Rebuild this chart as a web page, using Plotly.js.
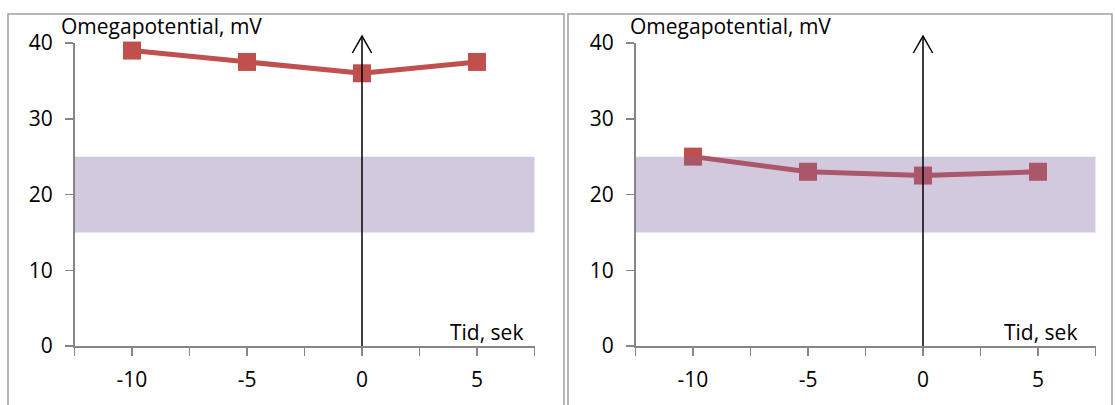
<!DOCTYPE html>
<html>
<head>
<meta charset="utf-8">
<script src="https://cdn.plot.ly/plotly-3.0.1.min.js"></script>
<style>html,body{margin:0;padding:0;background:#fff;}#chart{width:1115px;height:405px;}</style>
</head>
<body>
<div id="chart"></div>
<script>
// ---- data ----
const timeSec = [-10, -5, 0, 5];
const omegaLeft = [39, 37.5, 36, 37.5];
const omegaRight = [25, 23, 22.5, 23];
const bandRange = [15, 25];
const arrowAt = 0;
const xTickVals = [-12.5, -10, -7.5, -5, -2.5, 0, 2.5, 5, 7.5];
const xTickText = ['', '-10', '', '-5', '', '0', '', '5', ''];
const yTickVals = [0, 10, 20, 30, 40];
const yTitle = 'Omegapotential, mV';
const xTitle = 'Tid, sek';

const FONT = 'Open Sans, Liberation Sans, sans-serif';
const lineCol = '#c0504d';
const axisCol = '#868686';

function trace(y, xa, ya) {
  return {
    x: timeSec, y: y, xaxis: xa, yaxis: ya,
    type: 'scatter', mode: 'lines+markers',
    line: {color: lineCol, width: 5},
    marker: {symbol: 'square', size: 18, color: lineCol},
    hoverinfo: 'skip', showlegend: false, cliponaxis: false
  };
}

function xAxis(domain, anchor) {
  return {
    domain: domain, anchor: anchor, range: [-12.5, 7.5],
    tickvals: xTickVals, ticktext: xTickText,
    showgrid: false, zeroline: false, showline: true,
    linecolor: axisCol, linewidth: 1.5,
    ticks: 'outside', ticklen: 8, tickwidth: 1.5, tickcolor: axisCol,
    ticklabelstandoff: 6,
    tickfont: {family: FONT, size: 21, color: '#000'}, fixedrange: true
  };
}
function yAxis(domain, anchor) {
  return {
    domain: domain, anchor: anchor, range: [0, 40],
    tickvals: yTickVals,
    showgrid: false, zeroline: false, showline: true,
    linecolor: axisCol, linewidth: 1.5,
    ticks: 'outside', ticklen: 8, tickwidth: 1.5, tickcolor: axisCol,
    ticklabelstandoff: 8,
    tickfont: {family: FONT, size: 21, color: '#000'}, fixedrange: true
  };
}

const yDom = [59/405, 362/405];
const x1Dom = [74.5/1115, 534.5/1115];
const x2Dom = [635.5/1115, 1095.5/1115];

function panelShapes(xa, ya) {
  return [
    {type: 'rect', xref: xa + ' domain', yref: ya, x0: 0, x1: 1, y0: bandRange[0], y1: bandRange[1],
     fillcolor: 'rgba(128,100,162,0.35)', line: {width: 0}, layer: 'above'},
    {type: 'line', xref: xa, yref: ya + ' domain', x0: arrowAt, x1: arrowAt, y0: 0, y1: 1.023,
     line: {color: '#000', width: 1.5}, layer: 'above'},
    {type: 'path', xref: xa, yref: ya + ' domain',
     path: 'M ' + (arrowAt - 0.42) + ',0.967 L ' + arrowAt + ',1.023 L ' + (arrowAt + 0.42) + ',0.967',
     line: {color: '#000', width: 1.5}, layer: 'above'}
  ];
}

const frames = [
  {type: 'rect', xref: 'paper', yref: 'paper', x0: 8/1115, x1: 564/1115, y0: -0.1, y1: 391/405,
   line: {color: '#a0a0a0', width: 1.5}, fillcolor: 'rgba(0,0,0,0)', layer: 'below'},
  {type: 'rect', xref: 'paper', yref: 'paper', x0: 568/1115, x1: 1112/1115, y0: -0.1, y1: 391/405,
   line: {color: '#a0a0a0', width: 1.5}, fillcolor: 'rgba(0,0,0,0)', layer: 'below'}
];

function ann(text, xa, ya, x, y, xanchor, size) {
  return {text: text, xref: xa + ' domain', yref: ya + ' domain', x: x, y: y,
          xanchor: xanchor, yanchor: 'middle', showarrow: false,
          font: {family: FONT, size: size, color: '#000'}};
}

const layout = {
  width: 1115, height: 405,
  margin: {l: 0, r: 0, t: 0, b: 0},
  paper_bgcolor: '#fff', plot_bgcolor: 'rgba(0,0,0,0)',
  xaxis: xAxis(x1Dom, 'y'), yaxis: yAxis(yDom, 'x'),
  xaxis2: xAxis(x2Dom, 'y2'), yaxis2: yAxis(yDom, 'x2'),
  shapes: frames.concat(panelShapes('x', 'y'), panelShapes('x2', 'y2')),
  annotations: [
    ann(yTitle, 'x', 'y', -0.034, 1.056, 'left', 21),
    ann(yTitle, 'x2', 'y2', -0.016, 1.056, 'left', 21),
    ann(xTitle, 'x', 'y', 0.98, 0.045, 'right', 21),
    ann(xTitle, 'x2', 'y2', 0.965, 0.045, 'right', 21)
  ]
};

Plotly.newPlot('chart', [trace(omegaLeft, 'x', 'y'), trace(omegaRight, 'x2', 'y2')], layout,
  {displayModeBar: false, staticPlot: true});
</script>
</body>
</html>
